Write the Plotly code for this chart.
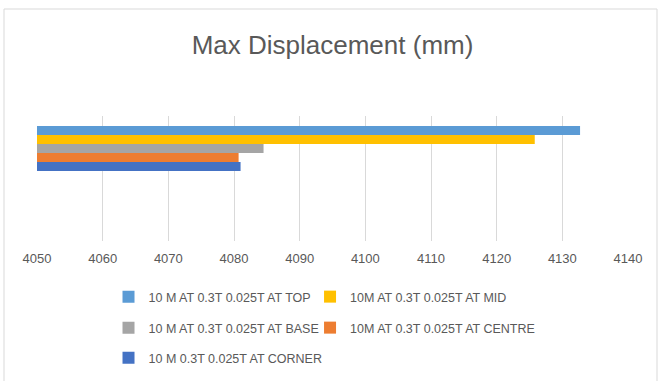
import plotly.graph_objects as go

series_names = [
    "10 M AT 0.3T 0.025T AT TOP",
    "10M AT 0.3T 0.025T AT MID",
    "10 M AT 0.3T 0.025T AT BASE",
    "10M AT 0.3T 0.025T AT CENTRE",
    "10 M 0.3T 0.025T AT CORNER",
]
values = [4132.7, 4125.8, 4084.5, 4080.7, 4081.0]
colors = ["#5B9BD5", "#FFC000", "#A5A5A5", "#ED7D31", "#4472C4"]
category = [""]
x_ticks = [4050, 4060, 4070, 4080, 4090, 4100, 4110, 4120, 4130, 4140]

FONT = "Liberation Sans, Arial, sans-serif"
GRAY = "#595959"

# legend placement: column x (paper), row centres y (pixels)
col_x = [0.121, 0.462, 0.121, 0.462, 0.121]
row_y = [297, 297, 328, 328, 358]
legend_ids = ["legend", "legend2", "legend3", "legend4", "legend5"]

fig = go.Figure()
for name, v, c, lg in zip(series_names, values, colors, legend_ids):
    fig.add_trace(go.Bar(
        y=category, x=[v], name=name, orientation="h",
        marker=dict(color=c, line=dict(width=0)),
        legend=lg,
    ))

legends = {}
for lg, lx, ly in zip(legend_ids, col_x, row_y):
    legends[lg] = dict(
        orientation="h", xanchor="left", yanchor="middle",
        x=lx, y=-(ly - 241) / 125,
        font=dict(family=FONT, size=12.5, color=GRAY),
        bgcolor="rgba(0,0,0,0)", itemclick=False, itemdoubleclick=False,
    )

fig.update_layout(
    width=659, height=381,
    margin=dict(l=37, r=31, t=116, b=140, autoexpand=False),
    paper_bgcolor="white", plot_bgcolor="white",
    barmode="group", bargap=0.64, bargroupgap=0,
    title=dict(text="Max Displacement (mm)", x=0.5, xref="paper", xanchor="center",
               y=1 - 45 / 381, yanchor="middle",
               font=dict(family=FONT, size=26, color=GRAY)),
    xaxis=dict(range=[4050, 4140], tickvals=x_ticks, ticktext=[str(t) for t in x_ticks],
               showgrid=True, gridcolor="#D9D9D9", gridwidth=1, zeroline=False,
               showline=False, ticks="outside", ticklen=5, tickcolor="white",
               tickfont=dict(family=FONT, size=13, color=GRAY)),
    yaxis=dict(range=[0.74, -0.26], showgrid=False, zeroline=False, showline=False,
               showticklabels=False, ticks=""),
    showlegend=True,
    shapes=[dict(type="rect", xref="paper", yref="paper",
                 x0=(4 - 37) / 591, x1=(657 - 37) / 591,
                 y0=-(386 - 241) / 125, y1=1 + (116 - 9) / 125,
                 line=dict(color="#D9D9D9", width=1), fillcolor="rgba(0,0,0,0)", layer="below")],
    **legends,
)

fig.write_html("out.html", config={"displayModeBar": False},
               post_script="document.body.style.margin='0px';")
